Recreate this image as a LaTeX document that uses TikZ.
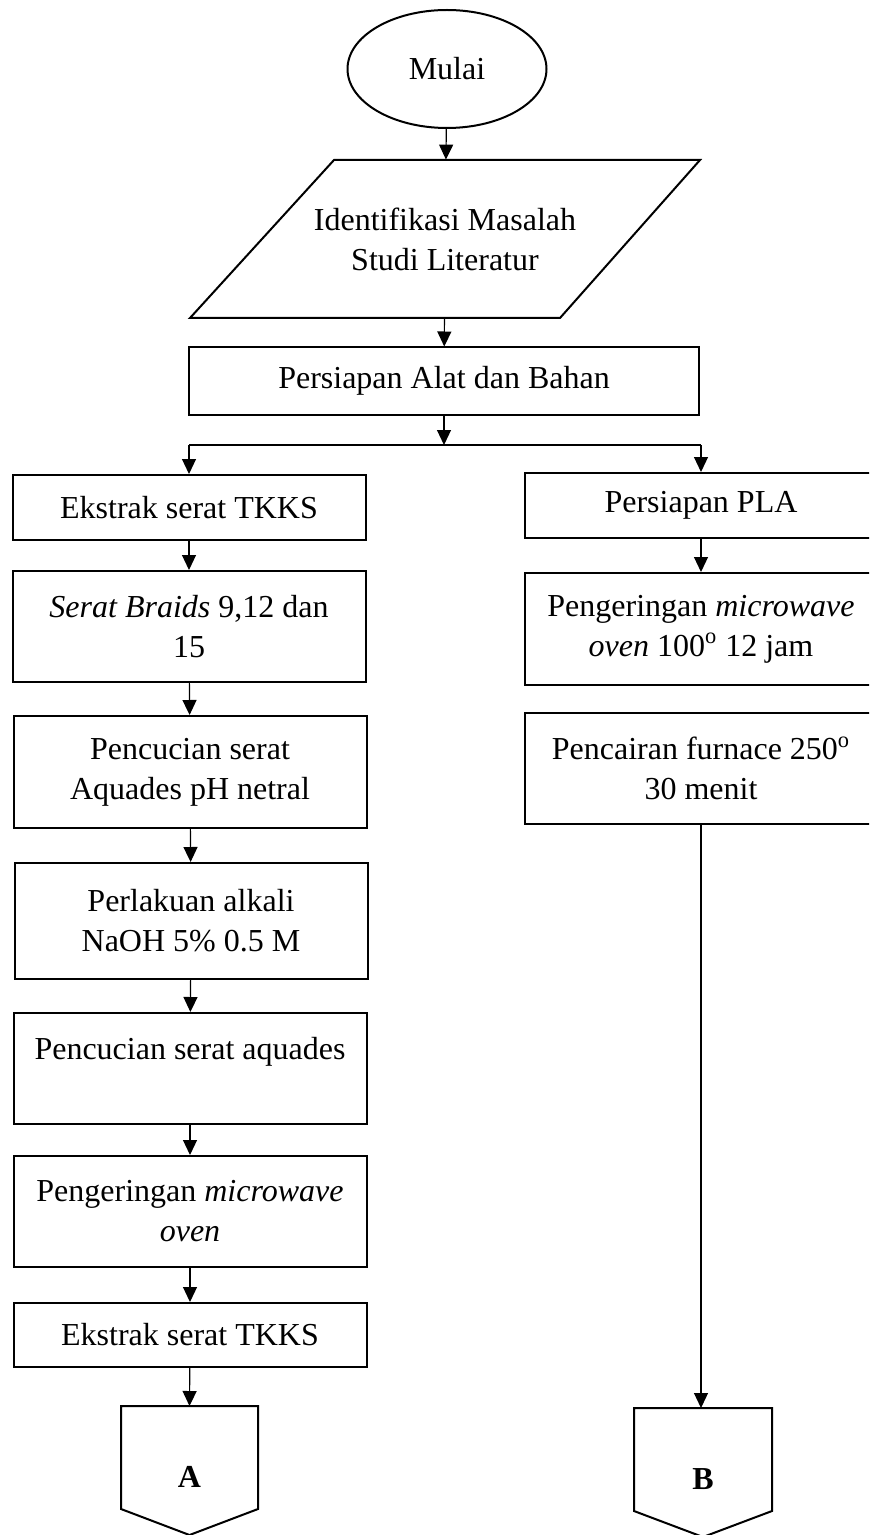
\documentclass[tikz,border=0pt]{standalone}
\usepackage{fontspec}
\setmainfont{Liberation Serif}
\usetikzlibrary{arrows.meta}
\usetikzlibrary{shapes.geometric}

\tikzset{
  proses/.style={draw, rectangle, line width=1pt, align=center, inner sep=2pt, minimum width=176.5pt},
  flow/.style={-{Triangle[length=7.5pt,width=7pt]}, line width=0.6pt},
}

\begin{document}
\begin{tikzpicture}[x=0.5pt, y=-0.5pt, font=\fontsize{16}{20}\selectfont]
    \clip (0,0) rectangle (869,1535);
    \node[draw, ellipse, line width=1pt, minimum width=99.5pt, minimum height=59pt, inner sep=0pt] (mulai) at (447,69) {Mulai};
    \node[minimum width=183pt, minimum height=79pt, inner sep=0pt, align=center] (ident) at (445,239) {Identifikasi Masalah\\Studi Literatur};
    \draw[line width=1pt] (334,160) -- (700,160) -- (560,318) -- (190,318) -- cycle;
    \node[proses, minimum width=255pt, minimum height=33.5pt] (siap) at (444,381) {Persiapan Alat dan Bahan};
    \coordinate (cabang) at (444,445);

    % kolom kiri
    \node[proses, minimum height=32.5pt] (L1) at (189,507.5) {Ekstrak serat TKKS};
    \node[proses, minimum height=55.5pt] (L2) at (189,626.5) {\textit{Serat Braids} 9,12 dan\\15};
    \node[proses, minimum height=56pt] (L3) at (190,772) {Pencucian serat\\Aquades pH netral};
    \node[proses, minimum height=58pt] (L4) at (191,921) {Perlakuan alkali\\NaOH 5\% 0.5 M};
    \node[proses, minimum height=55.5pt] (L5) at (190,1068.5) {Pencucian serat aquades\\~};
    \node[proses, minimum height=55.5pt] (L6) at (190,1211.5) {Pengeringan \textit{microwave}\\\textit{oven}};
    \node[proses, minimum height=32pt] (L7) at (190,1335) {Ekstrak serat TKKS};

    % kolom kanan
    \node[proses, minimum width=176pt, minimum height=32.5pt] (R1) at (701,505.5) {Persiapan PLA};
    \node[proses, minimum width=176pt, minimum height=56pt] (R2) at (701,629) {Pengeringan \textit{microwave}\\\textit{oven} 100\textsuperscript{o} 12 jam};
    \node[proses, minimum width=176pt, minimum height=55.5pt] (R3) at (701,768.5) {Pencairan furnace 250\textsuperscript{o}\\30 menit};

    % penghubung halaman
    \draw[line width=1pt] (121,1406) -- (258,1406) -- (258,1509) -- (189.5,1535) -- (121,1509) -- cycle;
    \coordinate (Atop) at (189.5,1406);
    \node (A) at (189.5,1477) {\textbf{A}};
    \draw[line width=1pt] (634,1408) -- (772,1408) -- (772,1511) -- (703,1537) -- (634,1511) -- cycle;
    \coordinate (Btop) at (701,1408);
    \node (B) at (703,1479) {\textbf{B}};

    \draw[flow] (mulai) -- (ident);
    \draw[flow] (ident) -- (siap);
    \draw[flow] (siap) -- (cabang);
    \draw[line width=0.6pt] (L1 |- cabang) -- (R1 |- cabang);
    \draw[flow] (L1 |- cabang) -- (L1);
    \draw[flow] (R1 |- cabang) -- (R1);
    \draw[flow] (L1) -- (L2);
    \draw[flow] (L2) -- (L3);
    \draw[flow] (L3) -- (L4);
    \draw[flow] (L4) -- (L5);
    \draw[flow] (L5) -- (L6);
    \draw[flow] (L6) -- (L7);
    \draw[flow] (L7) -- (Atop);
    \draw[flow] (R1) -- (R2);
    \draw[flow] (R3) -- (Btop);
\end{tikzpicture}
\end{document}
